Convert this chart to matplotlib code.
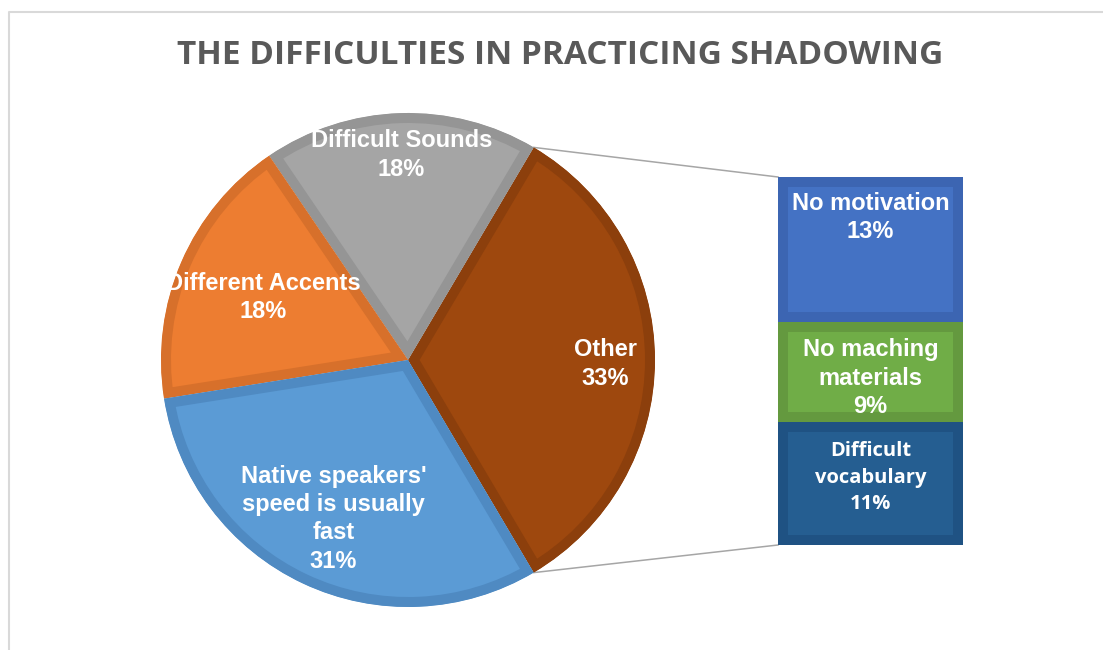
import numpy as np
import matplotlib.pyplot as plt

# data
pie_labels = ["Other", "Difficult Sounds", "Different Accents",
              "Native speakers'\nspeed is usually\nfast"]
bar_labels = ["No motivation", "No maching\nmaterials", "Difficult\nvocabulary"]
bar_values = [13, 9, 11]
pie_values = [sum(bar_values), 18, 18, 31]
total = sum(pie_values)

pie_colors = ["#9E480E", "#A5A5A5", "#ED7D31", "#5B9BD5"]
pie_edges = ["#8C3F0C", "#959595", "#D7702B", "#4F8AC2"]
bar_colors = ["#4472C4", "#70AD47", "#255E91"]
bar_edges = ["#3C65B2", "#64993F", "#1F5283"]

W, H = 1103, 650
fig = plt.figure(figsize=(W / 100, H / 100), dpi=100)
ax = fig.add_axes([0, 0, 1, 1])

# layout (pixel units, y up)
cx, cy, R = 408, H - 360, 247
band = 10  # inner border width, px
lw = 2 * band * 72 / 100

other_span = 360 * pie_values[0] / total
wedges, _ = ax.pie(pie_values, colors=pie_colors, startangle=-other_span / 2,
                   counterclock=True, center=(cx, cy), radius=R, frame=True)
for w, ec in zip(wedges, pie_edges):
    w.set_edgecolor(ec)
    w.set_linewidth(lw)
    w.set_joinstyle("miter")
    # keep the border inside the slice (pie turns clipping off)
    w.set_clip_on(True)
    w.set_clip_path(w)

label_r = [0.80, 0.83, 0.64, 0.71]
label_dy = [-4, 0, 0, 0]
for w, lab, v, rf, dy in zip(wedges, pie_labels, pie_values, label_r, label_dy):
    th = np.deg2rad((w.theta1 + w.theta2) / 2)
    ax.text(cx + rf * R * np.cos(th), cy + rf * R * np.sin(th) + dy,
            f"{lab}\n{v / total:.0%}", ha="center", va="center",
            color="white", fontsize=17, fontweight="bold",
            family="Liberation Sans", linespacing=1.3)

# bar of the "Other" slice
bx, bw = 870.5, 185
bar_bottom, bar_top = H - 545, H - 177
scale = (bar_top - bar_bottom) / pie_values[0]
heights = np.array(bar_values) * scale
bottoms = bar_top - np.cumsum(heights)
bars = ax.bar([bx] * len(bar_values), heights, width=bw, bottom=bottoms,
              color=bar_colors, edgecolor=bar_edges, linewidth=lw)
for b in bars:
    b.set_clip_path(b)

bar_label_dy = [-32, 6, -6]
label_font = [("Liberation Sans", 17, 1.3), ("Liberation Sans", 17, 1.3),
              ("Open Sans", 14.5, 1.45)]
for b, lab, v, dy, (fam, fs, ls) in zip(bars, bar_labels, bar_values, bar_label_dy, label_font):
    yc = b.get_y() + b.get_height() / 2 - dy
    ax.text(bx, yc, f"{lab}\n{v / total:.0%}", ha="center", va="center",
            color="white", fontsize=fs, fontweight="bold", family=fam,
            linespacing=ls)

# connector lines
t_hi, t_lo = np.deg2rad(wedges[0].theta2), np.deg2rad(wedges[0].theta1)
ax.plot([cx + R * np.cos(t_hi), bx - bw / 2], [cy + R * np.sin(t_hi), bar_top],
        color="#A6A6A6", lw=1.1, zorder=0.5)
ax.plot([cx + R * np.cos(t_lo), bx - bw / 2], [cy + R * np.sin(t_lo), bar_bottom],
        color="#A6A6A6", lw=1.1, zorder=0.5)

# chart frame
ax.plot([8.5, 8.5, W + 5], [-5, H - 11.5, H - 11.5], color="#D9D9D9", lw=1.5)

ax.text(560, H - 55, "THE DIFFICULTIES IN PRACTICING SHADOWING", ha="center",
        va="center", fontsize=24, fontweight="bold", family="Open Sans",
        color="#595959")

ax.set_xlim(0, W)
ax.set_ylim(0, H)
ax.axis("off")

fig.savefig("out.png", dpi=100)
